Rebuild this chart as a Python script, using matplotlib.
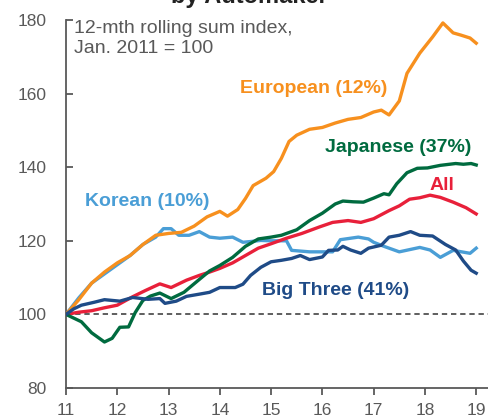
import matplotlib as mpl
mpl.use('Agg')
import matplotlib.pyplot as plt

plt.rcParams['font.family'] = ['Liberation Sans', 'DejaVu Sans']

# 12-month rolling sum index, Jan. 2011 = 100 (x in years, 11 = 2011)
euro_x = [11.0, 11.25, 11.5, 11.75, 12.0, 12.25, 12.5, 12.75, 13.0, 13.25, 13.5, 13.75, 14.0, 14.15,
          14.35, 14.5, 14.65, 14.9, 15.05, 15.2, 15.35, 15.5, 15.75, 16.0, 16.25, 16.5, 16.75, 17.0,
          17.15, 17.3, 17.5, 17.65, 17.9, 18.15, 18.35, 18.55, 18.7, 18.88, 19.0]
euro_y = [100, 104, 108.5, 111.5, 114, 116, 119, 121.5, 122, 122.3, 124, 126.5, 128, 126.7,
          128.5, 131.5, 135, 137, 138.8, 142.4, 147, 148.7, 150.3, 150.8, 152, 153, 153.5, 155,
          155.5, 154.2, 158, 165.5, 171, 175.4, 179.2, 176.5, 175.9, 175.1, 173.7]

kor_x = [11.0, 11.25, 11.5, 11.75, 12.0, 12.25, 12.5, 12.75, 12.9, 13.05, 13.2, 13.4, 13.6, 13.8,
         14.0, 14.25, 14.45, 14.6, 14.8, 15.0, 15.3, 15.4, 15.75, 16.0, 16.2, 16.35, 16.7, 16.9,
         17.0, 17.2, 17.5, 17.9, 18.1, 18.3, 18.55, 18.88, 19.0]
kor_y = [100, 104.5, 108.5, 111, 113.5, 116, 119, 121, 123.3, 123.3, 121.5, 121.5, 122.5, 121,
         120.7, 121, 119.6, 119.8, 120.1, 120, 120, 117.4, 117, 117, 117, 120.3, 121, 120.5,
         119.6, 118.5, 117, 118.2, 117.5, 115.5, 117.4, 116.6, 118]

jap_x = [11.0, 11.15, 11.3, 11.5, 11.75, 11.9, 12.05, 12.22, 12.35, 12.5, 12.65, 12.83, 13.05,
         13.3, 13.6, 13.8, 14.0, 14.25, 14.5, 14.75, 15.0, 15.2, 15.5, 15.75, 16.0, 16.25, 16.4,
         16.6, 16.8, 17.0, 17.2, 17.3, 17.45, 17.65, 17.85, 18.05, 18.3, 18.6, 18.75, 18.9, 19.0]
jap_y = [100, 99, 98, 95, 92.5, 93.5, 96.5, 96.6, 100.5, 103.8, 105, 105.8, 104.3,
         106, 109.5, 111.8, 113.3, 115.5, 118.5, 120.5, 121, 121.5, 123, 125.5, 127.5, 130, 130.8,
         130.6, 130.5, 131.6, 132.8, 132.5, 135.5, 138.5, 139.7, 139.8, 140.5, 141, 140.8, 141, 140.6]

all_x = [11.0, 11.25, 11.5, 11.75, 12.0, 12.3, 12.55, 12.83, 13.05, 13.35, 13.6, 13.8, 14.0, 14.25,
         14.5, 14.75, 15.0, 15.3, 15.6, 15.95, 16.2, 16.5, 16.75, 17.0, 17.3, 17.5, 17.7, 17.9,
         18.1, 18.3, 18.55, 18.8, 19.0]
all_y = [100, 100.6, 101, 101.8, 102.5, 104.8, 106.5, 108.3, 107.3, 109.3, 110.6, 111.5, 112.5, 114,
         116, 118, 119.2, 120.7, 122, 123.8, 125, 125.5, 125, 126, 128.2, 129.5, 131.3, 131.7,
         132.4, 131.8, 130.5, 129, 127.3]

big3_x = [11.0, 11.15, 11.3, 11.55, 11.75, 12.05, 12.3, 12.6, 12.83, 12.93, 13.15, 13.35, 13.6,
          13.8, 14.0, 14.3, 14.45, 14.6, 14.8, 15.0, 15.2, 15.4, 15.57, 15.75, 16.0, 16.12, 16.3,
          16.4, 16.55, 16.75, 16.9, 17.15, 17.3, 17.5, 17.72, 17.9, 18.15, 18.4, 18.6, 18.75,
          18.9, 19.0]
big3_y = [100, 101.5, 102.5, 103.3, 104, 103.6, 104.6, 104.1, 104.3, 103, 103.6, 104.9, 105.5,
          106, 107.3, 107.3, 108.2, 110.6, 112.8, 114.3, 114.7, 115.2, 116, 114.9, 115.6, 117.4, 117.5,
          118.5, 117.5, 116.6, 118, 118.8, 121, 121.5, 122.5, 121.5, 121.3, 119, 117.5, 114.5,
          112, 111.2]

yticks = [80, 100, 120, 140, 160, 180]
xticks = [11, 12, 13, 14, 15, 16, 17, 18, 19]

orange = '#F7901E'
green = '#006B3F'
red = '#E8203A'
lblue = '#4A9ED6'
navy = '#1F4B87'
grey = '#595959'

fig = plt.figure(figsize=(4.88, 4.19), dpi=100)
ax = fig.add_axes([66/488, 1 - 388/419, 1 - 66/488, (388 - 20)/419])

lw = 2.4
ax.axhline(100, color='#333333', lw=1.1, ls=(0, (3.5, 2.5)), zorder=1)
ax.plot(kor_x, kor_y, color=lblue, lw=lw, zorder=2)
ax.plot(euro_x, euro_y, color=orange, lw=lw, zorder=3)
ax.plot(all_x, all_y, color=red, lw=lw, zorder=4)
ax.plot(jap_x, jap_y, color=green, lw=lw, zorder=5)
ax.plot(big3_x, big3_y, color=navy, lw=lw, zorder=6)

ax.set_xlim(11, 19.23)
ax.set_ylim(80, 180)
ax.set_xticks(xticks)
ax.set_yticks(yticks)

for s in ['top', 'right']:
    ax.spines[s].set_visible(False)
for s in ['left', 'bottom']:
    ax.spines[s].set_color(grey)
    ax.spines[s].set_linewidth(1.3)

ax.tick_params(axis='y', direction='in', length=5, width=1.3, color=grey,
               labelcolor=grey, labelsize=12.5, pad=14)
ax.tick_params(axis='x', direction='out', length=5, width=1.3, color=grey,
               labelcolor=grey, labelsize=12.5, pad=6)

ax.text(11.16, 180.0, '12-mth rolling sum index,\nJan. 2011 = 100', ha='left', va='top',
        fontsize=14, color=grey, linespacing=1.22)

lab = dict(ha='center', va='center', fontsize=14, fontweight='bold')
ax.text(15.84, 161.5, 'European (12%)', color=orange, **lab)
ax.text(17.48, 145.4, 'Japanese (37%)', color=green, **lab)
ax.text(18.34, 135.1, 'All', color=red, **lab)
ax.text(12.58, 130.7, 'Korean (10%)', color=lblue, **lab)
ax.text(16.25, 106.5, 'Big Three (41%)', color=navy, **lab)

fig.text(0.51, 1 - 3/419, 'by Automaker', ha='center', va='baseline',
         fontsize=17, fontweight='bold', color='#222222')

fig.savefig('out.png', dpi=100)
